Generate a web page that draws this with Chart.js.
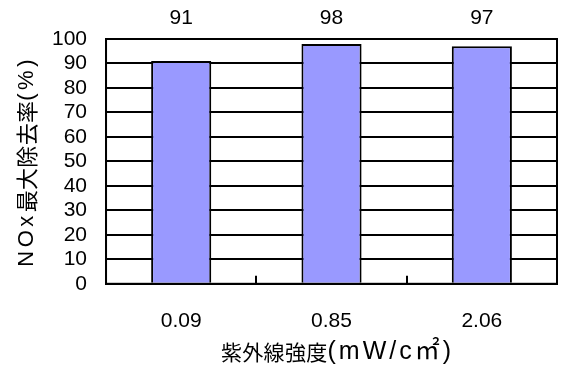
<!DOCTYPE html>
<html>
<head>
<meta charset="utf-8">
<script src="https://cdn.jsdelivr.net/npm/chart.js@4/dist/chart.umd.min.js"></script>
<style>
  html, body { margin: 0; padding: 0; background: #fff; }
  #wrap { width: 563px; height: 367px; }
</style>
</head>
<body>
<div id="wrap"><canvas id="c" width="563" height="367"></canvas></div>
<script>
// UV intensity (mW/cm²) and maximum NOx removal rate (%)
const categories = ['0.09', '0.85', '2.06'];
const removalRates = [91, 98, 97];
const yTicks = [0, 10, 20, 30, 40, 50, 60, 70, 80, 90, 100];

// Axis titles, split into CJK and Latin runs
const xTitleRuns = [['紫外線強度', 'cjk'], ['(mW/c㎡)', 'lat']];
const yTitleRuns = [['NOx', 'lat'], ['最大除去率', 'cjk'], ['(%)', 'lat']];

const NUM_FONT = '"Liberation Sans", Arial, sans-serif';
const X_TITLE_STYLE = {
  cjk: { font: '21px "Noto Sans CJK JP", sans-serif', gap: 0.3 },
  lat: { font: '25px "Liberation Sans", "Noto Sans CJK JP", sans-serif', gap: 3 }
};
const Y_TITLE_STYLE = {
  cjk: { font: '22px "Noto Sans CJK JP", sans-serif', gap: 0.3 },
  lat: { font: '22px "Liberation Sans", "Noto Sans CJK JP", sans-serif', gap: 3.5 }
};

// Lay out runs character by character so each run keeps its own spacing
function runGlyphs(ctx, runs, style) {
  const glyphs = [];
  let w = 0;
  runs.forEach(([text, kind]) => {
    const st = style[kind];
    ctx.font = st.font;
    for (const ch of text) {
      const adv = ctx.measureText(ch).width;
      glyphs.push({ ch, font: st.font, x: w });
      w += adv + st.gap;
    }
  });
  return { glyphs, width: w };
}

function drawRuns(ctx, runs, style, cx, cy, rotate) {
  ctx.save();
  ctx.translate(cx, cy);
  if (rotate) ctx.rotate(-Math.PI / 2);
  ctx.fillStyle = '#000';
  ctx.textBaseline = 'middle';
  ctx.textAlign = 'left';
  const { glyphs, width } = runGlyphs(ctx, runs, style);
  glyphs.forEach(g => {
    ctx.font = g.font;
    ctx.fillText(g.ch, g.x - width / 2, 0);
  });
  ctx.restore();
}

// Frame, inner category ticks, value labels above the plot and axis titles
const decorations = {
  id: 'decorations',
  afterDatasetsDraw(chart) {
    const { ctx, chartArea: a, scales } = chart;
    const x = scales.x;
    ctx.save();
    ctx.strokeStyle = '#000';
    ctx.lineWidth = 2;
    ctx.strokeRect(a.left, a.top, a.right - a.left, a.bottom - a.top);
    for (let i = 1; i < categories.length; i++) {
      const px = Math.round((x.getPixelForValue(i - 1) + x.getPixelForValue(i)) / 2);
      ctx.beginPath();
      ctx.moveTo(px, a.bottom);
      ctx.lineTo(px, a.bottom - 8);
      ctx.stroke();
    }
    ctx.fillStyle = '#000';
    ctx.font = '21px ' + NUM_FONT;
    ctx.textAlign = 'center';
    ctx.textBaseline = 'middle';
    const meta = chart.getDatasetMeta(0);
    meta.data.forEach((bar, i) => {
      ctx.fillText(String(removalRates[i]), bar.x, 18);
    });
    ctx.restore();

    drawRuns(ctx, xTitleRuns, X_TITLE_STYLE, (a.left + a.right) / 2 + 6, 352, false);
    drawRuns(ctx, yTitleRuns, Y_TITLE_STYLE, 27, (a.top + a.bottom) / 2, true);
  }
};

new Chart(document.getElementById('c'), {
  type: 'bar',
  data: {
    labels: categories,
    datasets: [{
      data: removalRates,
      backgroundColor: '#9999FF',
      borderColor: '#000',
      borderWidth: 2,
      categoryPercentage: 1,
      barPercentage: 0.4
    }]
  },
  options: {
    responsive: false,
    animation: false,
    devicePixelRatio: 1,
    layout: { padding: { top: 39, right: 6, bottom: 16, left: 33 } },
    plugins: {
      legend: { display: false },
      tooltip: { enabled: false }
    },
    scales: {
      x: {
        grid: { display: false },
        border: { display: true, color: '#000', width: 2 },
        ticks: {
          color: '#000',
          font: { size: 21, family: NUM_FONT },
          padding: 17
        }
      },
      y: {
        min: 0,
        max: 100,
        afterBuildTicks(scale) {
          scale.ticks = yTicks.map(v => ({ value: v }));
        },
        grid: {
          color: '#000',
          lineWidth: 2,
          drawTicks: false
        },
        border: { display: true, color: '#000', width: 2 },
        ticks: {
          autoSkip: false,
          color: '#000',
          font: { size: 21, family: NUM_FONT },
          padding: 19
        }
      }
    }
  },
  plugins: [decorations]
});
</script>
</body>
</html>
